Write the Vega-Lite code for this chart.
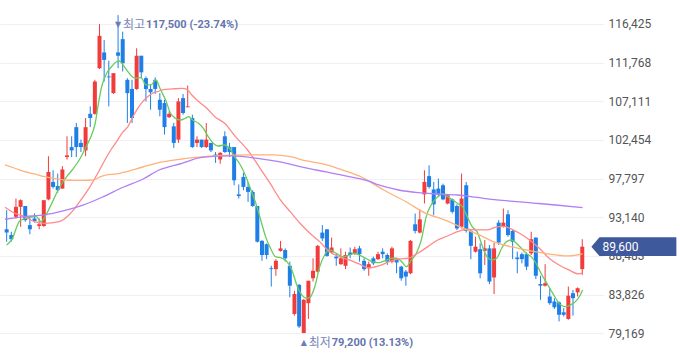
{
"$schema": "https://vega.github.io/schema/vega-lite/v6.json",
"width": 603, "height": 358,
"autosize": {"type": "none"},
"padding": {"left": 0, "top": 0, "right": 77, "bottom": 0},
"background": "white",
"config": {"view": {"stroke": null}},
"datasets": {
"candles": [
{"t":0,"o":91700,"h":94000,"l":90200,"c":91300},
{"t":1,"o":91000,"h":91400,"l":90200,"c":90500},
{"t":2,"o":93200,"h":95400,"l":93000,"c":94400},
{"t":3,"o":94400,"h":95300,"l":92000,"c":95200},
{"t":4,"o":94500,"h":94500,"l":92600,"c":92800},
{"t":5,"o":92200,"h":93200,"l":91100,"c":91700},
{"t":6,"o":93000,"h":93600,"l":92500,"c":92700},
{"t":7,"o":92100,"h":93000,"l":91700,"c":92300},
{"t":8,"o":92100,"h":95200,"l":92000,"c":95200},
{"t":9,"o":95300,"h":100500,"l":95200,"c":98600},
{"t":10,"o":97400,"h":98800,"l":96600,"c":96800},
{"t":11,"o":96900,"h":98400,"l":96100,"c":96400},
{"t":12,"o":96600,"h":99300,"l":96600,"c":98900},
{"t":13,"o":100400,"h":102900,"l":100100,"c":100600},
{"t":14,"o":101600,"h":102900,"l":100400,"c":101200},
{"t":15,"o":104000,"h":104500,"l":100400,"c":101600},
{"t":16,"o":102100,"h":102500,"l":101000,"c":101600},
{"t":17,"o":101200,"h":105100,"l":100500,"c":104000},
{"t":18,"o":105600,"h":106500,"l":104000,"c":105100},
{"t":19,"o":105600,"h":109700,"l":105500,"c":109500},
{"t":20,"o":111100,"h":116400,"l":111000,"c":115000},
{"t":21,"o":113000,"h":114500,"l":109500,"c":112100},
{"t":22,"o":110100,"h":112000,"l":106500,"c":110000},
{"t":23,"o":108100,"h":110500,"l":108000,"c":110500},
{"t":24,"o":113000,"h":117500,"l":111100,"c":112600},
{"t":25,"o":114600,"h":115500,"l":110700,"c":111700},
{"t":26,"o":109700,"h":109900,"l":104500,"c":108100},
{"t":27,"o":108600,"h":109700,"l":104500,"c":105100},
{"t":28,"o":108600,"h":113500,"l":108500,"c":112600},
{"t":29,"o":112600,"h":112600,"l":109900,"c":110600},
{"t":30,"o":109900,"h":110100,"l":107100,"c":108600},
{"t":31,"o":108600,"h":109100,"l":106100,"c":108200},
{"t":32,"o":109700,"h":110000,"l":108000,"c":108600},
{"t":33,"o":107300,"h":108100,"l":105300,"c":106100},
{"t":34,"o":106900,"h":107300,"l":103100,"c":104000},
{"t":35,"o":105200,"h":105900,"l":105100,"c":105600},
{"t":36,"o":104100,"h":104500,"l":101500,"c":102100},
{"t":37,"o":102500,"h":107500,"l":102100,"c":107100},
{"t":38,"o":107500,"h":108000,"l":105500,"c":105700},
{"t":39,"o":106400,"h":109000,"l":106400,"c":106500},
{"t":40,"o":105100,"h":105500,"l":101500,"c":101600},
{"t":41,"o":102100,"h":102900,"l":101600,"c":102500},
{"t":42,"o":102500,"h":102500,"l":101500,"c":101600},
{"t":43,"o":101600,"h":104500,"l":101500,"c":102500},
{"t":44,"o":102100,"h":102100,"l":101000,"c":101200},
{"t":45,"o":100700,"h":101000,"l":99700,"c":100500},
{"t":46,"o":100100,"h":101000,"l":99600,"c":100900},
{"t":47,"o":102900,"h":103500,"l":100900,"c":101000},
{"t":48,"o":101600,"h":102100,"l":100400,"c":101000},
{"t":49,"o":101600,"h":101600,"l":97000,"c":97600},
{"t":50,"o":95900,"h":97100,"l":95400,"c":95700},
{"t":51,"o":98000,"h":98500,"l":96400,"c":96800},
{"t":52,"o":96800,"h":97400,"l":95000,"c":96200},
{"t":53,"o":96200,"h":96400,"l":94400,"c":94500},
{"t":54,"o":94500,"h":94500,"l":90100,"c":90200},
{"t":55,"o":90300,"h":90400,"l":87900,"c":88600},
{"t":56,"o":89900,"h":90000,"l":88100,"c":88600},
{"t":57,"o":87000,"h":87300,"l":84800,"c":86900},
{"t":58,"o":86900,"h":88100,"l":86100,"c":87900},
{"t":59,"o":89100,"h":90300,"l":89000,"c":89400},
{"t":60,"o":89200,"h":89400,"l":87800,"c":88200},
{"t":61,"o":87300,"h":87800,"l":83500,"c":84900},
{"t":62,"o":81500,"h":84300,"l":81300,"c":83900},
{"t":63,"o":85000,"h":85100,"l":79800,"c":80000},
{"t":64,"o":79200,"h":83300,"l":79200,"c":83200},
{"t":65,"o":82800,"h":85500,"l":80900,"c":85500},
{"t":66,"o":85800,"h":88200,"l":85400,"c":86700},
{"t":67,"o":86600,"h":89800,"l":86500,"c":89700},
{"t":68,"o":91300,"h":92200,"l":90300,"c":90600},
{"t":69,"o":91700,"h":91700,"l":88400,"c":88500},
{"t":70,"o":88900,"h":90700,"l":88800,"c":89500},
{"t":71,"o":88400,"h":88800,"l":87300,"c":88200},
{"t":72,"o":87500,"h":89400,"l":87400,"c":88200},
{"t":73,"o":87300,"h":89000,"l":86900,"c":88600},
{"t":74,"o":88900,"h":89500,"l":88200,"c":88600},
{"t":75,"o":88800,"h":89600,"l":88600,"c":89300},
{"t":76,"o":89400,"h":89700,"l":87800,"c":88700},
{"t":77,"o":87900,"h":88200,"l":86700,"c":86900},
{"t":78,"o":87000,"h":87800,"l":86100,"c":87500},
{"t":79,"o":88200,"h":88400,"l":87400,"c":87600},
{"t":80,"o":88100,"h":89000,"l":88000,"c":88700},
{"t":81,"o":89000,"h":89400,"l":88200,"c":88700},
{"t":82,"o":88600,"h":88800,"l":87400,"c":87800},
{"t":83,"o":87800,"h":89600,"l":87600,"c":89400},
{"t":84,"o":88100,"h":88200,"l":86400,"c":87700},
{"t":85,"o":87200,"h":87300,"l":85500,"c":85800},
{"t":86,"o":86600,"h":86800,"l":84900,"c":86000},
{"t":87,"o":86400,"h":90400,"l":86300,"c":90300},
{"t":88,"o":92300,"h":93600,"l":91200,"c":91500},
{"t":89,"o":91300,"h":94100,"l":91200,"c":92900},
{"t":90,"o":95900,"h":98800,"l":94800,"c":97400},
{"t":91,"o":98100,"h":99400,"l":96600,"c":96800},
{"t":92,"o":96500,"h":97400,"l":93400,"c":94700},
{"t":93,"o":96600,"h":97800,"l":95600,"c":95900},
{"t":94,"o":97000,"h":97200,"l":95200,"c":95300},
{"t":95,"o":94800,"h":95900,"l":94700,"c":95800},
{"t":96,"o":95300,"h":95400,"l":93600,"c":93800},
{"t":97,"o":94500,"h":94700,"l":91600,"c":91800},
{"t":98,"o":92000,"h":98400,"l":91800,"c":95400},
{"t":99,"o":97000,"h":97400,"l":91300,"c":91500},
{"t":100,"o":91500,"h":91700,"l":88100,"c":89700},
{"t":101,"o":89000,"h":90800,"l":88900,"c":89600},
{"t":102,"o":89300,"h":90000,"l":85800,"c":86400},
{"t":103,"o":89100,"h":90400,"l":87400,"c":89400},
{"t":104,"o":89400,"h":89800,"l":85100,"c":85400},
{"t":105,"o":85900,"h":90100,"l":83900,"c":89400},
{"t":106,"o":92500,"h":92800,"l":89800,"c":90100},
{"t":107,"o":92000,"h":94200,"l":91900,"c":92500},
{"t":108,"o":93500,"h":94000,"l":90800,"c":91000},
{"t":109,"o":91500,"h":91700,"l":88100,"c":90200},
{"t":110,"o":88300,"h":89000,"l":86400,"c":88100},
{"t":111,"o":88700,"h":88900,"l":87600,"c":88100},
{"t":112,"o":88700,"h":88900,"l":86800,"c":87200},
{"t":113,"o":88800,"h":91400,"l":88600,"c":90500},
{"t":114,"o":90700,"h":90700,"l":85700,"c":86100},
{"t":115,"o":85100,"h":86100,"l":83200,"c":84900},
{"t":116,"o":84900,"h":87500,"l":84800,"c":85200},
{"t":117,"o":83600,"h":84600,"l":82600,"c":82800},
{"t":118,"o":83000,"h":83400,"l":82100,"c":82300},
{"t":119,"o":82900,"h":83000,"l":80600,"c":81400},
{"t":120,"o":81700,"h":82200,"l":81200,"c":81400},
{"t":121,"o":80900,"h":84800,"l":80800,"c":83700},
{"t":122,"o":84000,"h":84400,"l":81300,"c":83400},
{"t":123,"o":84100,"h":84700,"l":83600,"c":84600},
{"t":124,"o":86900,"h":90500,"l":86200,"c":89600}
],
"ma": [
{"m":"5","t":0,"v":89810},{"m":"5","t":1.06,"v":90410},{"m":"5","t":2.82,"v":92700},{"m":"5","t":4.51,"v":93060},{"m":"5","t":6.36,"v":93220},{"m":"5","t":7.42,"v":92620},{"m":"5","t":8.47,"v":93420},{"m":"5","t":9.87,"v":95020},{"m":"5","t":11.29,"v":96640},{"m":"5","t":13.05,"v":98120},{"m":"5","t":14.11,"v":98840},{"m":"5","t":15.17,"v":99650},{"m":"5","t":16.23,"v":100650},{"m":"5","t":17.29,"v":101850},{"m":"5","t":18.14,"v":102850},{"m":"5","t":19.07,"v":104470},{"m":"5","t":19.77,"v":106870},{"m":"5","t":20.47,"v":108870},{"m":"5","t":21.53,"v":110490},{"m":"5","t":22.58,"v":111280},{"m":"5","t":23.64,"v":111880},{"m":"5","t":24.36,"v":111970},{"m":"5","t":25.06,"v":111490},{"m":"5","t":26.12,"v":110680},{"m":"5","t":27.18,"v":110010},{"m":"5","t":27.88,"v":109890},{"m":"5","t":28.94,"v":109960},{"m":"5","t":30.0,"v":109080},{"m":"5","t":31.06,"v":109080},{"m":"5","t":32.12,"v":109680},{"m":"5","t":33.18,"v":108480},{"m":"5","t":34.24,"v":107270},{"m":"5","t":35.3,"v":105670},{"m":"5","t":36.36,"v":105070},{"m":"5","t":37.42,"v":104860},{"m":"5","t":38.47,"v":105070},{"m":"5","t":39.19,"v":105260},{"m":"5","t":40.04,"v":104860},{"m":"5","t":41.31,"v":104470},{"m":"5","t":42.37,"v":103860},{"m":"5","t":43.43,"v":102850},{"m":"5","t":44.49,"v":102060},{"m":"5","t":45.55,"v":101730},{"m":"5","t":46.95,"v":101850},{"m":"5","t":48.0,"v":101455},{"m":"5","t":49.07,"v":100450},{"m":"5","t":50.13,"v":99650},{"m":"5","t":51.55,"v":98040},{"m":"5","t":52.61,"v":96430},{"m":"5","t":53.67,"v":94830},{"m":"5","t":54.72,"v":92820},{"m":"5","t":55.78,"v":90810},{"m":"5","t":56.84,"v":89410},{"m":"5","t":57.9,"v":88400},{"m":"5","t":59.32,"v":88210},{"m":"5","t":60.38,"v":87800},{"m":"5","t":61.44,"v":86800},{"m":"5","t":62.5,"v":84990},{"m":"5","t":63.56,"v":83790},{"m":"5","t":64.62,"v":83390},{"m":"5","t":65.47,"v":83580},{"m":"5","t":66.38,"v":84790},{"m":"5","t":67.44,"v":87200},{"m":"5","t":68.5,"v":88605},{"m":"5","t":69.56,"v":89210},{"m":"5","t":70.97,"v":88810},{"m":"5","t":72.37,"v":88400},{"m":"5","t":73.79,"v":88605},{"m":"5","t":74.85,"v":88810},{"m":"5","t":75.91,"v":88605},{"m":"5","t":77.33,"v":88210},{"m":"5","t":78.73,"v":87800},{"m":"5","t":80.15,"v":87680},{"m":"5","t":81.57,"v":87920},{"m":"5","t":82.97,"v":88210},{"m":"5","t":84.03,"v":88210},{"m":"5","t":85.08,"v":87800},{"m":"5","t":86.14,"v":87200},{"m":"5","t":87.2,"v":88000},{"m":"5","t":88.26,"v":88810},{"m":"5","t":89.32,"v":90410},{"m":"5","t":90.38,"v":93220},{"m":"5","t":91.44,"v":94630},{"m":"5","t":92.86,"v":95630},{"m":"5","t":93.92,"v":95950},{"m":"5","t":94.98,"v":95630},{"m":"5","t":96.04,"v":95230},{"m":"5","t":97.1,"v":94830},{"m":"5","t":98.16,"v":94420},{"m":"5","t":99.22,"v":93220},{"m":"5","t":100.28,"v":92010},{"m":"5","t":101.33,"v":91410},{"m":"5","t":102.39,"v":89810},{"m":"5","t":103.45,"v":88400},{"m":"5","t":104.51,"v":88000},{"m":"5","t":105.57,"v":88210},{"m":"5","t":106.63,"v":89410},{"m":"5","t":107.69,"v":90210},{"m":"5","t":108.75,"v":90410},{"m":"5","t":109.81,"v":90010},{"m":"5","t":110.87,"v":89410},{"m":"5","t":111.93,"v":88810},{"m":"5","t":112.99,"v":88400},{"m":"5","t":114.05,"v":87605},{"m":"5","t":115.11,"v":86400},{"m":"5","t":116.17,"v":85390},{"m":"5","t":117.22,"v":84390},{"m":"5","t":118.28,"v":83390},{"m":"5","t":119.34,"v":82585},{"m":"5","t":120.4,"v":82380},{"m":"5","t":121.46,"v":82585},{"m":"5","t":122.52,"v":82980},{"m":"5","t":123.58,"v":83790},{"m":"5","t":124.07,"v":84390},
{"m":"20","t":-0.36,"v":94350},{"m":"20","t":1.76,"v":93630},{"m":"20","t":3.88,"v":93220},{"m":"20","t":6.0,"v":92615},{"m":"20","t":8.11,"v":92400},{"m":"20","t":11.29,"v":92615},{"m":"20","t":13.41,"v":93420},{"m":"20","t":15.53,"v":94870},{"m":"20","t":17.65,"v":96555},{"m":"20","t":19.77,"v":98600},{"m":"20","t":21.53,"v":100410},{"m":"20","t":22.58,"v":101370},{"m":"20","t":23.64,"v":102215},{"m":"20","t":25.06,"v":103420},{"m":"20","t":26.12,"v":104060},{"m":"20","t":27.18,"v":105260},{"m":"20","t":28.24,"v":106270},{"m":"20","t":29.3,"v":107070},{"m":"20","t":30.36,"v":107670},{"m":"20","t":31.42,"v":108080},{"m":"20","t":32.48,"v":108270},{"m":"20","t":33.54,"v":108480},{"m":"20","t":35.66,"v":108600},{"m":"20","t":37.78,"v":108680},{"m":"20","t":38.83,"v":108560},{"m":"20","t":39.89,"v":107875},{"m":"20","t":41.48,"v":107030},{"m":"20","t":43.07,"v":106310},{"m":"20","t":44.83,"v":105260},{"m":"20","t":46.95,"v":104465},{"m":"20","t":49.43,"v":102760},{"m":"20","t":51.91,"v":101250},{"m":"20","t":54.36,"v":99240},{"m":"20","t":56.84,"v":97160},{"m":"20","t":58.96,"v":95230},{"m":"20","t":61.08,"v":93820},{"m":"20","t":63.2,"v":92420},{"m":"20","t":65.32,"v":91220},{"m":"20","t":67.44,"v":90210},{"m":"20","t":69.56,"v":89000},{"m":"20","t":71.67,"v":88400},{"m":"20","t":73.79,"v":88000},{"m":"20","t":75.91,"v":87520},{"m":"20","t":78.03,"v":87040},{"m":"20","t":80.15,"v":87280},{"m":"20","t":82.27,"v":87760},{"m":"20","t":84.39,"v":88120},{"m":"20","t":86.5,"v":88210},{"m":"20","t":88.62,"v":88845},{"m":"20","t":90.74,"v":89605},{"m":"20","t":92.86,"v":90410},{"m":"20","t":94.98,"v":90890},{"m":"20","t":97.1,"v":91410},{"m":"20","t":99.22,"v":91700},{"m":"20","t":101.33,"v":91615},{"m":"20","t":103.45,"v":91615},{"m":"20","t":105.57,"v":91980},{"m":"20","t":106.99,"v":92040},{"m":"20","t":108.4,"v":91820},{"m":"20","t":110.5,"v":91220},{"m":"20","t":112.63,"v":90410},{"m":"20","t":114.75,"v":89410},{"m":"20","t":116.86,"v":88210},{"m":"20","t":118.98,"v":87400},{"m":"20","t":121.1,"v":86800},{"m":"20","t":123.22,"v":86320},{"m":"20","t":124.07,"v":86440},
{"m":"60","t":-0.36,"v":99445},{"m":"60","t":1.76,"v":99050},{"m":"60","t":3.88,"v":98640},{"m":"60","t":6.0,"v":98360},{"m":"60","t":8.11,"v":98035},{"m":"60","t":10.23,"v":97840},{"m":"60","t":12.35,"v":97640},{"m":"60","t":14.47,"v":97580},{"m":"60","t":16.59,"v":97580},{"m":"60","t":18.71,"v":97640},{"m":"60","t":20.13,"v":98000},{"m":"60","t":21.53,"v":98240},{"m":"60","t":23.64,"v":98360},{"m":"60","t":25.06,"v":98540},{"m":"60","t":29.3,"v":99200},{"m":"60","t":33.54,"v":99805},{"m":"60","t":37.78,"v":100165},{"m":"60","t":42.01,"v":100410},{"m":"60","t":46.25,"v":100590},{"m":"60","t":51.91,"v":100650},{"m":"60","t":57.54,"v":100650},{"m":"60","t":61.08,"v":100445},{"m":"60","t":64.62,"v":99925},{"m":"60","t":68.14,"v":99565},{"m":"60","t":71.67,"v":98960},{"m":"60","t":75.91,"v":98120},{"m":"60","t":81.21,"v":96430},{"m":"60","t":86.5,"v":94870},{"m":"60","t":90.1,"v":93665},{"m":"60","t":94.34,"v":92820},{"m":"60","t":99.22,"v":91615},{"m":"60","t":101.33,"v":91135},{"m":"60","t":105.57,"v":90050},{"m":"60","t":109.81,"v":89450},{"m":"60","t":114.05,"v":88970},{"m":"60","t":118.28,"v":88605},{"m":"60","t":121.1,"v":88485},{"m":"60","t":124.07,"v":88725},
{"m":"120","t":-0.36,"v":92905},{"m":"120","t":3.88,"v":93220},{"m":"120","t":8.11,"v":93425},{"m":"120","t":12.35,"v":93940},{"m":"120","t":16.59,"v":94630},{"m":"120","t":20.83,"v":95625},{"m":"120","t":25.06,"v":96760},{"m":"120","t":29.3,"v":97720},{"m":"120","t":32.84,"v":98840},{"m":"120","t":37.78,"v":99650},{"m":"120","t":42.01,"v":100350},{"m":"120","t":48.37,"v":100530},{"m":"120","t":54.03,"v":100250},{"m":"120","t":58.96,"v":99805},{"m":"120","t":63.9,"v":99145},{"m":"120","t":68.86,"v":98600},{"m":"120","t":73.79,"v":98035},{"m":"120","t":78.03,"v":97500},{"m":"120","t":80.15,"v":97035},{"m":"120","t":84.39,"v":96430},{"m":"120","t":88.62,"v":96110},{"m":"120","t":92.86,"v":95950},{"m":"120","t":97.1,"v":95830},{"m":"120","t":101.33,"v":95530},{"m":"120","t":105.57,"v":95230},{"m":"120","t":109.81,"v":95025},{"m":"120","t":114.05,"v":94830},{"m":"120","t":118.28,"v":94625},{"m":"120","t":124.07,"v":94300}
]
},
"layer": [
{"data": {"name": "candles"},
 "mark": {"type": "rule", "strokeWidth": 1},
 "encoding": {
  "x": {"field": "t", "type": "quantitative", "scale": {"domain": [-0.36, 127.39], "nice": false, "zero": false}, "axis": null},
  "y": {"field": "l", "type": "quantitative", "scale": {"domain": [76194, 119315], "nice": false, "zero": false},
        "axis": {"orient": "right", "title": null, "values": [79169, 83826, 88483, 93140, 97797, 102454, 107111, 111768, 116425], "format": ",d", "domain": false, "ticks": false, "labelPadding": 5, "labelColor": "#555555", "labelFontSize": 12, "labelFont": "Roboto", "gridColor": "#eff0f5", "gridWidth": 1}},
  "y2": {"field": "h"},
  "color": {"condition": {"test": "datum.c >= datum.o", "value": "#f23b3b"}, "value": "#1f7fe8"}
 }},
{"data": {"name": "candles"},
 "mark": {"type": "bar", "size": 4},
 "encoding": {
  "x": {"field": "t", "type": "quantitative"},
  "y": {"field": "o", "type": "quantitative"},
  "y2": {"field": "c"},
  "color": {"condition": {"test": "datum.c >= datum.o", "value": "#f23b3b"}, "value": "#1f7fe8"}
 }},
{"data": {"name": "ma"},
 "mark": {"type": "line", "interpolate": "monotone", "strokeWidth": 1.3},
 "encoding": {
  "x": {"field": "t", "type": "quantitative"},
  "y": {"field": "v", "type": "quantitative"},
  "color": {"field": "m", "type": "nominal", "scale": {"domain": ["5", "20", "60", "120"], "range": ["#66cc5e", "#ff8a8a", "#ffb27a", "#b27ff5"]}, "legend": null}
 }},
{"data": {"values": [{"t": 24, "v": 117500, "s": "▼"}, {"t": 64, "v": 79200, "s": "▲"}]},
 "mark": {"type": "text", "fontSize": 8, "font": "DejaVu Sans", "color": "#6f7db5", "baseline": "middle", "align": "center"},
 "encoding": {"x": {"field": "t", "type": "quantitative"}, "y": {"field": "v", "type": "quantitative"}, "text": {"field": "s"},
   "yOffset": {"condition": {"test": "datum.v > 100000", "value": -6}, "value": 10}}},
{"data": {"values": [{"t": 24, "v": 117500, "s": "최고"}, {"t": 64, "v": 79200, "s": "최저"}]},
 "mark": {"type": "text", "fontSize": 12, "font": "Noto Sans CJK KR", "color": "#7784b8", "baseline": "middle", "align": "left", "dx": 5},
 "encoding": {"x": {"field": "t", "type": "quantitative"}, "y": {"field": "v", "type": "quantitative"}, "text": {"field": "s"},
   "yOffset": {"condition": {"test": "datum.v > 100000", "value": -6}, "value": 10}}},
{"data": {"values": [{"t": 24, "v": 117500, "s": "117,500 (-23.74%)"}, {"t": 64, "v": 79200, "s": "79,200 (13.13%)"}]},
 "mark": {"type": "text", "fontSize": 11, "font": "Roboto", "fontWeight": "bold", "color": "#6474ad", "baseline": "middle", "align": "left", "dx": 28},
 "encoding": {"x": {"field": "t", "type": "quantitative"}, "y": {"field": "v", "type": "quantitative"}, "text": {"field": "s"},
   "yOffset": {"condition": {"test": "datum.v > 100000", "value": -6}, "value": 10}}},
{"data": {"values": [{"t": 135.12, "v": 89600, "s": "89,600"}]},
 "mark": {"type": "point", "filled": true, "opacity": 1, "size": 7225, "strokeWidth": 0, "color": "#3f5a9c", "shape": "M-1,0L-0.81,-0.22L1,-0.22L1,0.22L-0.81,0.22Z"},
 "encoding": {"x": {"field": "t", "type": "quantitative"}, "y": {"field": "v", "type": "quantitative"}}},
{"data": {"values": [{"t": 135.12, "v": 89600, "s": "89,600"}]},
 "mark": {"type": "text", "fontSize": 12, "font": "Roboto", "color": "white", "baseline": "middle", "align": "left", "dx": -31.5},
 "encoding": {"x": {"field": "t", "type": "quantitative"}, "y": {"field": "v", "type": "quantitative"}, "text": {"field": "s"}}}
]
}
